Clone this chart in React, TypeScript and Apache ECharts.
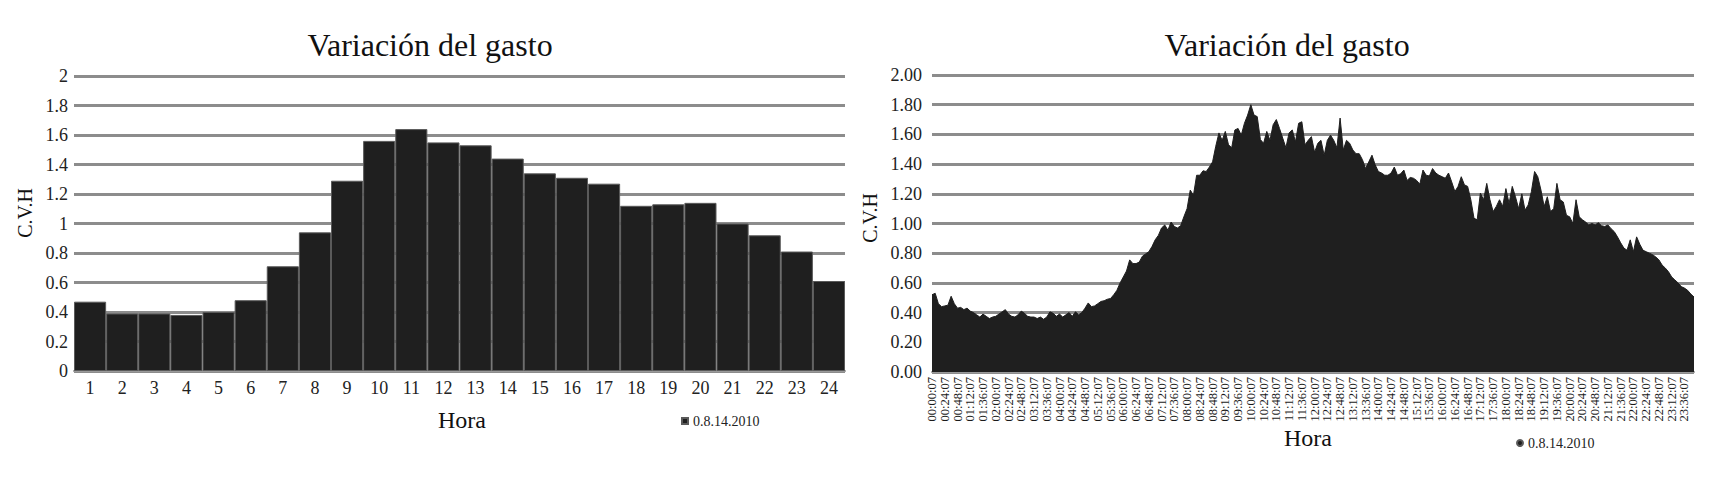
import React, { useEffect, useRef } from 'react';
import * as echarts from 'echarts';

const chartTitle = 'Variación del gasto';
const xName = 'Hora';
const yName = 'C.V.H';
const seriesName = '0.8.14.2010';

const hourLabels = ['1', '2', '3', '4', '5', '6', '7', '8', '9', '10', '11', '12', '13', '14', '15', '16', '17', '18', '19', '20', '21', '22', '23', '24'];
const hourlyCVH = [0.47, 0.39, 0.39, 0.38, 0.40, 0.48, 0.71, 0.94, 1.29, 1.56, 1.64, 1.55, 1.53, 1.44, 1.34, 1.31, 1.27, 1.12, 1.13, 1.14, 1.00, 0.92, 0.81, 0.61];

// readings every 6 minutes, starting 00:00:07
const detailCVH = [
  0.52, 0.53, 0.46, 0.44, 0.445, 0.45, 0.51, 0.46, 0.43, 0.435,
  0.42, 0.43, 0.41, 0.40, 0.385, 0.37, 0.39, 0.375, 0.36, 0.37,
  0.375, 0.39, 0.405, 0.42, 0.39, 0.375, 0.37, 0.385, 0.41, 0.395,
  0.375, 0.37, 0.37, 0.36, 0.37, 0.355, 0.37, 0.405, 0.395, 0.375,
  0.39, 0.37, 0.385, 0.40, 0.375, 0.405, 0.385, 0.40, 0.43, 0.465,
  0.44, 0.445, 0.46, 0.475, 0.48, 0.49, 0.495, 0.52, 0.55, 0.60,
  0.64, 0.68, 0.755, 0.73, 0.73, 0.74, 0.78, 0.795, 0.81, 0.845,
  0.89, 0.92, 0.97, 0.99, 0.955, 1.01, 0.98, 0.97, 0.985, 1.045,
  1.10, 1.225, 1.19, 1.325, 1.325, 1.355, 1.35, 1.38, 1.415, 1.52,
  1.61, 1.56, 1.62, 1.53, 1.51, 1.63, 1.64, 1.595, 1.675, 1.73,
  1.80, 1.73, 1.72, 1.565, 1.54, 1.62, 1.56, 1.665, 1.70, 1.64,
  1.575, 1.51, 1.61, 1.63, 1.55, 1.675, 1.685, 1.53, 1.56, 1.585,
  1.48, 1.54, 1.56, 1.46, 1.56, 1.595, 1.56, 1.51, 1.71, 1.495,
  1.56, 1.54, 1.495, 1.47, 1.47, 1.43, 1.37, 1.415, 1.46, 1.395,
  1.35, 1.34, 1.325, 1.325, 1.34, 1.38, 1.325, 1.335, 1.36, 1.29,
  1.31, 1.305, 1.29, 1.265, 1.36, 1.325, 1.32, 1.37, 1.34, 1.325,
  1.315, 1.305, 1.34, 1.28, 1.215, 1.25, 1.315, 1.26, 1.25, 1.16,
  1.035, 1.025, 1.205, 1.16, 1.27, 1.16, 1.08, 1.115, 1.16, 1.115,
  1.235, 1.135, 1.25, 1.18, 1.10, 1.20, 1.09, 1.125, 1.215, 1.35,
  1.315, 1.225, 1.115, 1.18, 1.08, 1.10, 1.27, 1.16, 1.145, 1.055,
  1.045, 1.00, 1.16, 1.045, 1.025, 1.01, 0.99, 1.00, 0.99, 1.005,
  0.985, 0.98, 0.99, 0.965, 0.945, 0.91, 0.87, 0.835, 0.82, 0.89,
  0.81, 0.91, 0.86, 0.82, 0.81, 0.80, 0.79, 0.775, 0.755, 0.72,
  0.70, 0.675, 0.64, 0.62, 0.60, 0.575, 0.565, 0.55, 0.525, 0.505,
];

const pad = (n: number) => (n < 10 ? '0' + n : String(n));
const timeLabels: string[] = detailCVH.map((_, i) => {
  const m = i * 6;
  return `${pad(Math.floor(m / 60))}:${pad(m % 60)}:07`;
});

const FONT = '"Liberation Serif", "Times New Roman", serif';
const DARK = '#1f1f1f';
const GRID_COLOR = '#8c8c8c';

const timeLabelStyle = {
  rotate: 90,
  fontSize: 12.5,
  color: '#1a1a1a',
  margin: 5,
  fontFamily: FONT,
  hideOverlap: false,
};

export default function App() {
  const ref = useRef<HTMLDivElement>(null);
  useEffect(() => {
    const chart = echarts.init(ref.current!, null, { renderer: 'svg' });
    const txt = (text: string, x: number, y: number, size: number, rot = 0) => ({
      type: 'text',
      x,
      y,
      rotation: rot,
      silent: true,
      style: {
        text,
        font: `normal ${size}px ${FONT}`,
        fill: '#111',
        textAlign: 'center',
        textVerticalAlign: 'middle',
        align: 'center',
        verticalAlign: 'middle',
      },
    });
    // two overlaid label axes (alternating ticks) so that no label is dropped for overlap
    const labelAxis = (offsetIdx: number) => {
      const axisLabel: any = {
        ...timeLabelStyle,
        interval: (index: number) => index % 8 === offsetIdx,
      };
      if (offsetIdx === 0) axisLabel.showMinLabel = true;
      return {
        type: 'category',
        gridIndex: 1,
        data: timeLabels,
        boundaryGap: false,
        position: 'bottom',
        offset: 0,
        axisLine: { show: false },
        axisTick: { show: false },
        splitLine: { show: false },
        axisPointer: { show: false },
        axisLabel,
      };
    };
    chart.setOption({
      animation: false,
      backgroundColor: '#ffffff',
      textStyle: { fontFamily: FONT },
      grid: [
        { left: 74, top: 76, width: 771, height: 295 },
        { left: 932, top: 75, width: 762, height: 297 },
      ],
      xAxis: [
        {
          type: 'category',
          gridIndex: 0,
          data: hourLabels,
          axisTick: { show: false },
          axisLine: { lineStyle: { color: '#9a9a9a', width: 2 } },
          axisLabel: { fontSize: 18, color: '#222', margin: 8, fontFamily: FONT },
        },
        {
          type: 'category',
          gridIndex: 1,
          data: timeLabels,
          boundaryGap: false,
          position: 'bottom',
          axisTick: { show: false },
          axisLine: { lineStyle: { color: '#9a9a9a', width: 2 } },
          axisLabel: { show: false },
        },
        labelAxis(0),
        labelAxis(4),
      ],
      yAxis: [
        {
          type: 'value',
          gridIndex: 0,
          min: 0,
          max: 2,
          interval: 0.2,
          axisLine: { show: false },
          axisTick: { show: false },
          axisLabel: { fontSize: 18, color: '#222', margin: 6, fontFamily: FONT },
          splitLine: { lineStyle: { color: GRID_COLOR, width: 3 } },
        },
        {
          type: 'value',
          gridIndex: 1,
          min: 0,
          max: 2,
          interval: 0.2,
          axisLine: { show: false },
          axisTick: { show: false },
          axisLabel: {
            fontSize: 18,
            color: '#222',
            margin: 10,
            fontFamily: FONT,
            formatter: (v: number) => v.toFixed(2),
          },
          splitLine: { lineStyle: { color: GRID_COLOR, width: 3 } },
        },
      ],
      legend: [
        {
          data: [{ name: seriesName, icon: 'rect' }],
          left: 676,
          top: 409,
          itemWidth: 6,
          itemHeight: 6,
          selectedMode: false,
          textStyle: { fontSize: 14, color: '#222', fontFamily: FONT },
        },
        {
          data: [{ name: seriesName, icon: 'circle' }],
          left: 1511,
          top: 431,
          itemWidth: 6,
          itemHeight: 6,
          selectedMode: false,
          textStyle: { fontSize: 14, color: '#222', fontFamily: FONT },
        },
      ],
      series: [
        {
          type: 'bar',
          name: seriesName,
          xAxisIndex: 0,
          yAxisIndex: 0,
          data: hourlyCVH,
          barCategoryGap: '0%',
          itemStyle: { color: DARK, borderColor: '#5a5a5a', borderWidth: 1 },
        },
        {
          type: 'line',
          name: seriesName,
          xAxisIndex: 1,
          yAxisIndex: 1,
          data: detailCVH,
          showSymbol: false,
          symbol: 'none',
          lineStyle: { color: DARK, width: 1 },
          itemStyle: { color: DARK },
          areaStyle: { color: DARK, opacity: 1 },
        },
      ],
      graphic: [
        txt(chartTitle, 430, 45, 32),
        txt(chartTitle, 1287, 45, 32),
        txt(xName, 462, 420, 24),
        txt(xName, 1308, 438, 24),
        txt(yName, 25, 213, 20, Math.PI / 2),
        txt(yName, 870, 218, 20, Math.PI / 2),
      ],
    });
    return () => chart.dispose();
  }, []);
  return <div ref={ref} style={{ position: 'absolute', left: 0, top: 0, width: 1716, height: 479 }} />;
}
